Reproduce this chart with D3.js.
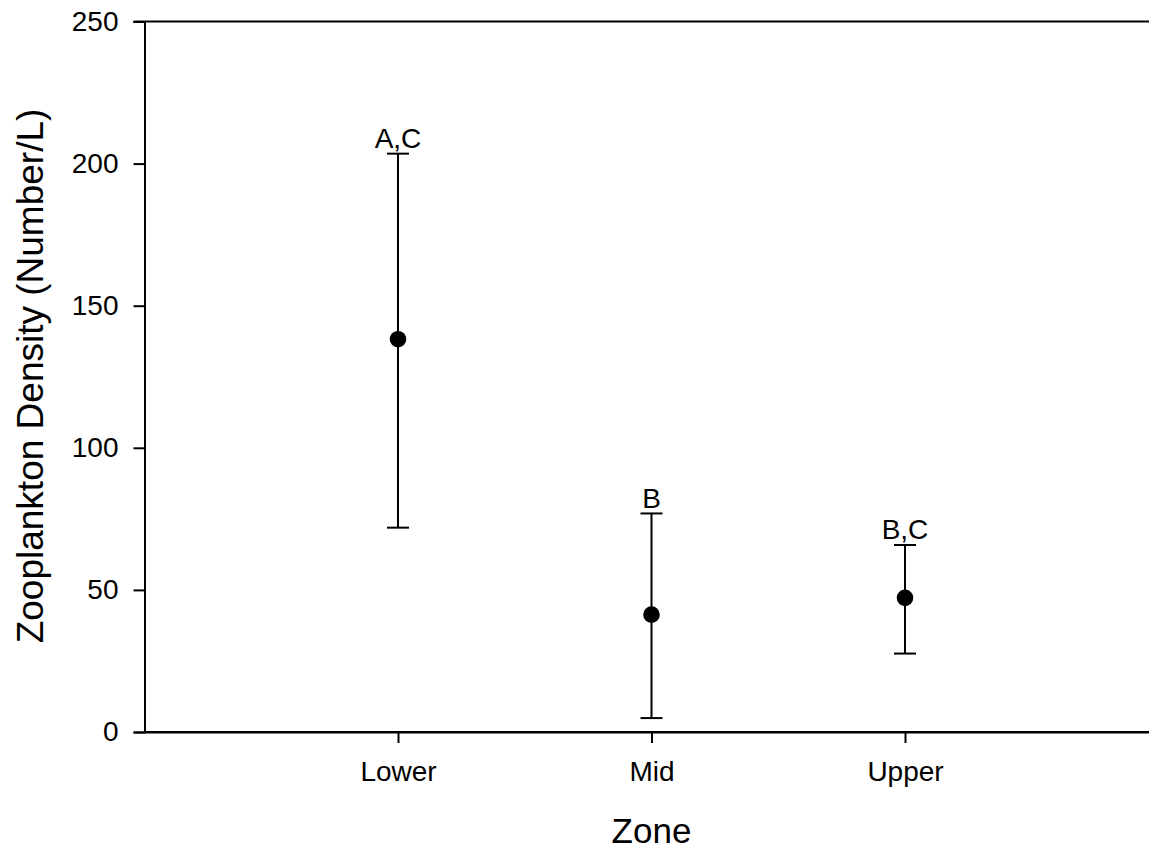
<!DOCTYPE html>
<html>
<head>
<meta charset="utf-8">
<script src="https://cdn.jsdelivr.net/npm/d3@7"></script>
<style>
  html, body { margin: 0; padding: 0; background: #fff; }
  svg { display: block; font-family: "Liberation Sans", Arial, sans-serif; }
</style>
</head>
<body>
<svg id="chart" width="1149" height="850"></svg>
<script>
// Zooplankton density by zone: mean with error bars and significance letters
const zones = ["Lower", "Mid", "Upper"];
const means = [138.2, 41.3, 47.2];
const upperErr = [203.5, 76.9, 65.8];
const lowerErr = [71.9, 4.9, 27.6];
const groupLetters = ["A,C", "B", "B,C"];
const yTicks = [0, 50, 100, 150, 200, 250];

const svg = d3.select("#chart");
const margin = { left: 144.5, top: 21.5, bottom: 732 };
const tickFont = 28;
const titleFont = 35;
const yTitleFont = 37;

const x = d3.scaleLinear().domain([0, 4]).range([margin.left, 1158.5]);
const y = d3.scaleLinear().domain([0, 250]).range([margin.bottom, margin.top]);

const ink = "#000";

// Frame: top line
svg.append("line")
  .attr("x1", margin.left - 11).attr("x2", 1149)
  .attr("y1", y(250)).attr("y2", y(250))
  .attr("stroke", ink).attr("stroke-width", 2);

// Y axis
const yAxis = svg.append("g")
  .attr("transform", `translate(${margin.left},0)`)
  .call(d3.axisLeft(y).tickValues(yTicks).tickSize(11).tickPadding(15));
yAxis.select(".domain").attr("stroke", ink).attr("stroke-width", 2);
yAxis.selectAll(".tick line").attr("stroke", ink).attr("stroke-width", 2);
yAxis.selectAll(".tick text").attr("font-size", tickFont).attr("fill", ink)
  .attr("font-family", "Liberation Sans, Arial, sans-serif");

// X axis
const xAxis = svg.append("g")
  .attr("transform", `translate(0,${margin.bottom})`)
  .call(d3.axisBottom(x).tickValues([1, 2, 3])
    .tickFormat((d) => zones[d - 1]).tickSize(11).tickPadding(18).tickSizeOuter(0));
xAxis.select(".domain").attr("stroke", ink).attr("stroke-width", 2);
xAxis.selectAll(".tick line").attr("stroke", ink).attr("stroke-width", 2);
xAxis.selectAll(".tick text").attr("font-size", tickFont).attr("fill", ink)
  .attr("font-family", "Liberation Sans, Arial, sans-serif");

// Extend the x axis baseline to the right edge
svg.append("line")
  .attr("x1", margin.left).attr("x2", 1149)
  .attr("y1", margin.bottom).attr("y2", margin.bottom)
  .attr("stroke", ink).attr("stroke-width", 2);

// Error bars
const rows = zones.map((z, i) => ({ pos: i + 1, mean: means[i], hi: upperErr[i], lo: lowerErr[i], letter: groupLetters[i] }));
const capHalf = 11;

const g = svg.append("g");
g.selectAll("line.stem").data(rows).join("line")
  .attr("class", "stem")
  .attr("x1", (d) => x(d.pos)).attr("x2", (d) => x(d.pos))
  .attr("y1", (d) => y(d.hi)).attr("y2", (d) => y(d.lo))
  .attr("stroke", ink).attr("stroke-width", 2);
g.selectAll("line.capHi").data(rows).join("line")
  .attr("class", "capHi")
  .attr("x1", (d) => x(d.pos) - capHalf).attr("x2", (d) => x(d.pos) + capHalf)
  .attr("y1", (d) => y(d.hi)).attr("y2", (d) => y(d.hi))
  .attr("stroke", ink).attr("stroke-width", 2);
g.selectAll("line.capLo").data(rows).join("line")
  .attr("class", "capLo")
  .attr("x1", (d) => x(d.pos) - capHalf).attr("x2", (d) => x(d.pos) + capHalf)
  .attr("y1", (d) => y(d.lo)).attr("y2", (d) => y(d.lo))
  .attr("stroke", ink).attr("stroke-width", 2);

// Mean markers
g.selectAll("circle").data(rows).join("circle")
  .attr("cx", (d) => x(d.pos)).attr("cy", (d) => y(d.mean))
  .attr("r", 8.3).attr("fill", ink);

// Significance letters above upper caps
g.selectAll("text.letter").data(rows).join("text")
  .attr("class", "letter")
  .attr("x", (d) => x(d.pos)).attr("y", (d) => y(d.hi) - 5.5)
  .attr("text-anchor", "middle").attr("font-size", tickFont).attr("fill", ink)
  .text((d) => d.letter);

// Axis titles
svg.append("text")
  .attr("x", x(2)).attr("y", 843)
  .attr("text-anchor", "middle").attr("font-size", titleFont).attr("fill", ink)
  .text("Zone");

svg.append("text")
  .attr("transform", `translate(43,376) rotate(-90)`)
  .attr("text-anchor", "middle").attr("font-size", yTitleFont).attr("fill", ink)
  .text("Zooplankton Density (Number/L)");
</script>
</body>
</html>
